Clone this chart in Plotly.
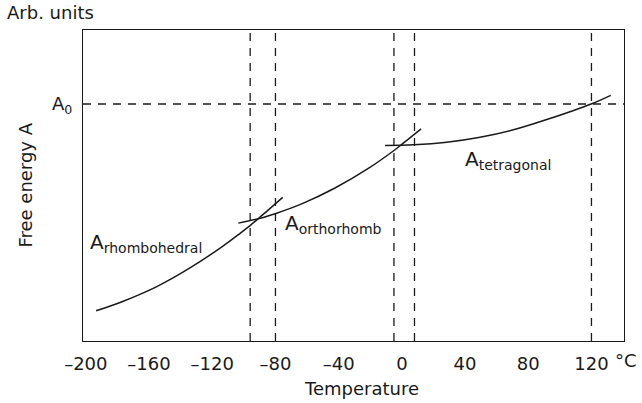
import plotly.graph_objects as go

# Temperature axis (°C) and free-energy axis (arbitrary units)
tick_values = [-200, -160, -120, -80, -40, 0, 40, 80, 120]
tick_labels = ["–200", "–160", "–120", "–80", "–40", "0", "40", "80", "120"]

# Free energy of each phase versus temperature
rhombo_T = [-193.5, -176.3, -155.1, -134.1, -113.0, -102.4, -96.1, -88.7, -75.4]
rhombo_A = [0.097, 0.128, 0.175, 0.235, 0.306, 0.346, 0.371, 0.403, 0.462]

ortho_T = [-103.5, -87.7, -80.3, -63.4, -42.3, -21.2, -5.4, 0.9, 12.2]
ortho_A = [0.379, 0.397, 0.409, 0.441, 0.492, 0.555, 0.611, 0.636, 0.682]

tetra_T = [-10.6, 7.3, 28.4, 49.5, 70.6, 91.7, 120.2, 132.2]
tetra_A = [0.629, 0.631, 0.639, 0.655, 0.679, 0.712, 0.763, 0.790]

# Reference level and transition temperatures (heating / cooling)
A0 = 0.762
transitions = [-96, -80, -5, 8, 120]

FONT = "DejaVu Sans"
INK = "#1a1a1a"

fig = go.Figure()
for T, A in [(rhombo_T, rhombo_A), (ortho_T, ortho_A), (tetra_T, tetra_A)]:
    fig.add_trace(go.Scatter(x=T, y=A, mode="lines",
                             line=dict(color=INK, width=1.5, shape="spline", smoothing=1.0),
                             hoverinfo="skip", showlegend=False))

shapes = []
for t in transitions:
    shapes.append(dict(type="line", xref="x", yref="paper", x0=t, x1=t, y0=0, y1=1,
                       line=dict(color=INK, width=1.3, dash="8px,7px")))
shapes.append(dict(type="line", xref="paper", yref="y", x0=0, x1=1, y0=A0, y1=A0,
                   line=dict(color=INK, width=1.3, dash="8px,7px")))

annotations = [
    dict(text="A<sub>rhombohedral</sub>", x=-198.6, y=0.315, xref="x", yref="y",
         xanchor="left", yanchor="middle", showarrow=False, font=dict(size=20)),
    dict(text="A<sub>orthorhomb</sub>", x=-75, y=0.376, xref="x", yref="y",
         xanchor="left", yanchor="middle", showarrow=False, font=dict(size=20)),
    dict(text="A<sub>tetragonal</sub>", x=38.5, y=0.581, xref="x", yref="y",
         xanchor="left", yanchor="middle", showarrow=False, font=dict(size=20)),
    dict(text="Arb. units", x=-0.145, y=1.055, xref="paper", yref="paper",
         xanchor="left", yanchor="middle", showarrow=False),
    dict(text="°C", x=1.0046, y=-0.064, xref="paper", yref="paper",
         xanchor="center", yanchor="middle", showarrow=False),
    dict(text="Temperature", x=0.515, y=-0.154, xref="paper", yref="paper",
         xanchor="center", yanchor="middle", showarrow=False),
    dict(text="Free energy A", x=-0.107, y=0.50, xref="paper", yref="paper",
         xanchor="center", yanchor="middle", showarrow=False, textangle=-90),
]

fig.update_layout(
    width=642, height=403,
    margin=dict(l=83, r=18, t=30, b=62),
    paper_bgcolor="white", plot_bgcolor="white",
    font=dict(family=FONT, size=18, color=INK),
    shapes=shapes, annotations=annotations,
    xaxis=dict(range=[-201.8, 140.6], tickmode="array", tickvals=tick_values,
               ticktext=tick_labels, showgrid=False, zeroline=False,
               showline=True, linecolor=INK, linewidth=1.3, mirror=True,
               ticks="outside", ticklen=6, tickcolor="rgba(0,0,0,0)"),
    yaxis=dict(range=[0, 1], tickmode="array", tickvals=[A0], ticktext=["A<sub>0</sub>"],
               showgrid=False, zeroline=False,
               showline=True, linecolor=INK, linewidth=1.3, mirror=True,
               ticks="outside", ticklen=6, tickcolor="rgba(0,0,0,0)"),
)

fig.write_html("out.html")
